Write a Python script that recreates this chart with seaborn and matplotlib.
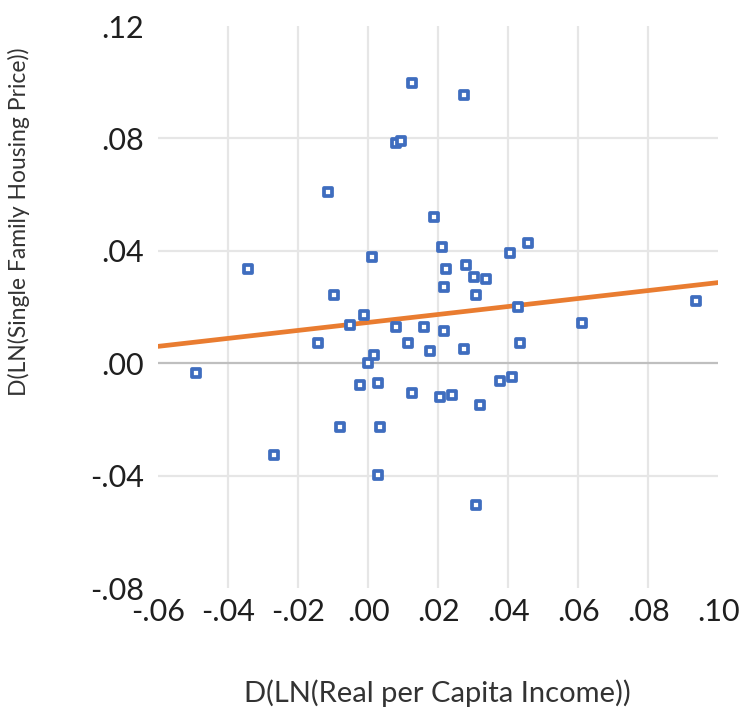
import matplotlib
matplotlib.use("Agg")
import matplotlib.pyplot as plt
import matplotlib.ticker as mticker
import seaborn as sns
import pandas as pd

income = [-0.0491, -0.0343, -0.0269, -0.0143, -0.0114, -0.0097, -0.0080, -0.0051,
          -0.0023, -0.0011, 0.0000, 0.0011, 0.0017, 0.0029, 0.0034, 0.0029,
          0.0080, 0.0094, 0.0080, 0.0114, 0.0126, 0.0126, 0.0160, 0.0177,
          0.0189, 0.0206, 0.0211, 0.0217, 0.0217, 0.0223, 0.0240, 0.0274,
          0.0274, 0.0280, 0.0303, 0.0309, 0.0320, 0.0337, 0.0309, 0.0377,
          0.0406, 0.0411, 0.0429, 0.0434, 0.0457, 0.0611, 0.0937]
price = [-0.0036, 0.0335, -0.0327, 0.0071, 0.0609, 0.0242, -0.0228, 0.0135,
         -0.0078, 0.0171, 0.0000, 0.0377, 0.0028, -0.0071, -0.0228, -0.0399,
         0.0783, 0.0790, 0.0128, 0.0071, 0.0996, -0.0107, 0.0128, 0.0043,
         0.0520, -0.0121, 0.0413, 0.0270, 0.0114, 0.0335, -0.0114, 0.0954,
         0.0050, 0.0349, 0.0306, 0.0242, -0.0149, 0.0299, -0.0505, -0.0064,
         0.0391, -0.0050, 0.0199, 0.0071, 0.0427, 0.0142, 0.0221]

fit_x = [-0.06, 0.10]
fit_y = [0.0060, 0.0287]

x_ticks = [-0.06, -0.04, -0.02, 0.00, 0.02, 0.04, 0.06, 0.08, 0.10]
y_ticks = [-0.08, -0.04, 0.00, 0.04, 0.08, 0.12]

df = pd.DataFrame({"income": income, "price": price})
fit = pd.DataFrame({"x": fit_x, "y": fit_y})

sns.set_theme(style="white")
plt.rcParams["font.family"] = ["Lato", "DejaVu Sans"]

fig = plt.figure(figsize=(7.42, 7.15), dpi=100)
ax = fig.add_axes([0.213, 0.1776, 0.755, 0.786])

ax.set_xlim(-0.06, 0.10)
ax.set_ylim(-0.08, 0.12)

# gridlines (interior only)
for xv in x_ticks[1:-1]:
    ax.axvline(xv, color="#e6e6e6", lw=1.6, zorder=0)
for yv in y_ticks[1:-1]:
    ax.axhline(yv, color="#bfbfbf" if yv == 0 else "#e6e6e6", lw=1.6, zorder=0)

sns.lineplot(data=fit, x="x", y="y", ax=ax, color="#E97C30", lw=3.4, zorder=2)
sns.scatterplot(data=df, x="income", y="price", ax=ax, marker="s", s=26,
                facecolor="white", edgecolor="#3F6DBF", linewidth=2.7, zorder=3)

def fmt(v, pos):
    s = f"{v:.2f}"
    return s.replace("0.", ".", 1)

ax.set_xticks(x_ticks)
ax.set_yticks(y_ticks)
ax.xaxis.set_major_formatter(mticker.FuncFormatter(fmt))
ax.yaxis.set_major_formatter(mticker.FuncFormatter(fmt))
ax.tick_params(axis="both", length=0, labelsize=22, colors="#1f1f1f")
ax.tick_params(axis="x", pad=7)
ax.tick_params(axis="y", pad=10)

for sp in ax.spines.values():
    sp.set_visible(False)

ax.set_xlabel("D(LN(Real per Capita Income))", fontsize=21, color="#333333")
ax.set_ylabel("D(LN(Single Family Housing Price))", fontsize=16.5, color="#333333")
ax.xaxis.label.set_va("center")
ax.yaxis.label.set_va("center")
ax.xaxis.set_label_coords(0.498, (588 - 693) / 562)
ax.yaxis.set_label_coords((19 - 158) / 560, (588 - 222) / 562)

fig.savefig("out.png", dpi=100)
